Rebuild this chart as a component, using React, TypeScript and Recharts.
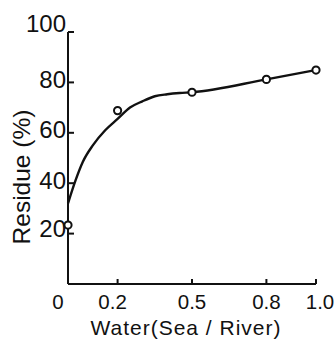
import { ComposedChart, Line, XAxis, YAxis, Label } from 'recharts'

// measured points (open circles)
const pointX = [0, 0.2, 0.5, 0.8, 1.0]
const pointY = [23.4, 68.8, 76.1, 81.2, 84.9]

// hand-drawn fitted curve
const curveX = [0, 0.03, 0.06, 0.1, 0.15, 0.2, 0.25, 0.3, 0.35, 0.4, 0.45, 0.5, 0.8, 1.0]
const curveY = [32, 41, 48.5, 55, 61, 65.5, 70, 72.5, 74.5, 75.3, 75.8, 76.1, 81.2, 84.9]

const xTicks = [0, 0.2, 0.5, 0.8, 1.0]
const xTickLabels = ['0', '0.2', '0.5', '0.8', '1.0']
const yTicks = [20, 40, 60, 80, 100]

const points = pointX.map((x, i) => ({ x, y: pointY[i] }))
const curve = curveX.map((x, i) => ({ x, y: curveY[i] }))

const INK = '#111'
const NARROW = '"Liberation Sans Narrow", "Liberation Sans", Arial, sans-serif'
const SANS = '"Liberation Sans", Arial, sans-serif'

// small nudges so labels sit where the scan has them
const xLabelShift: Record<number, number> = { 0: -10, 0.2: -5, 1: 4 }
const yLabelShift: Record<number, number> = { 100: -9, 20: -5 }

const XTick = (props: any) => {
  const { x, y, payload } = props
  const v = payload.value as number
  const i = xTicks.indexOf(v)
  return (
    <g>
      {v !== 0 && <line x1={x} y1={y} x2={x} y2={y - 5} stroke={INK} strokeWidth={2} />}
      <text
        x={x + (xLabelShift[v] || 0)}
        y={y + 17}
        textAnchor="middle"
        dominantBaseline="central"
        fontFamily={NARROW}
        fontSize={20.5}
        fill={INK}
      >
        {xTickLabels[i]}
      </text>
    </g>
  )
}

const YTick = (props: any) => {
  const { x, y, payload } = props
  const v = payload.value as number
  return (
    <g>
      <line x1={x} y1={y} x2={x + 6} y2={y} stroke={INK} strokeWidth={2} />
      <text
        x={x - 2}
        y={y + (yLabelShift[v] ?? -3)}
        textAnchor="end"
        dominantBaseline="central"
        fontFamily={NARROW}
        fontSize={24}
        fill={INK}
      >
        {v}
      </text>
    </g>
  )
}

const Circle = (props: any) => {
  const { cx, cy } = props
  return <circle cx={cx} cy={cy} r={3.6} fill="#fff" stroke={INK} strokeWidth={2} />
}

export default function App() {
  return (
    <div style={{ position: 'absolute', left: 0, top: 0, background: '#fff' }}>
      <ComposedChart width={334} height={340} margin={{ top: 32, right: 18, left: 0, bottom: 0 }}>
        <XAxis
          type="number"
          dataKey="x"
          domain={[0, 1]}
          ticks={xTicks}
          height={56}
          tickSize={0}
          tickMargin={0}
          tick={<XTick />}
          axisLine={{ stroke: INK, strokeWidth: 2 }}
          allowDuplicatedCategory={false}
        >
          <Label
            content={(p: any) => {
              const vb = p.viewBox
              return (
                <text
                  x={vb.x + vb.width / 2 - 6}
                  y={335}
                  textAnchor="middle"
                  fontFamily={SANS}
                  fontSize={21}
                  letterSpacing={1}
                  fill={INK}
                >
                  Water(Sea / River)
                </text>
              )
            }}
          />
        </XAxis>
        <YAxis
          type="number"
          dataKey="y"
          domain={[0, 100]}
          ticks={yTicks}
          width={68}
          tickSize={0}
          tickMargin={0}
          tick={<YTick />}
          axisLine={{ stroke: INK, strokeWidth: 2 }}
        >
          <Label
            content={(p: any) => {
              const vb = p.viewBox
              const cy = vb.y + vb.height / 2 + 19
              return (
                <text
                  transform={`translate(30, ${cy}) rotate(-90)`}
                  textAnchor="middle"
                  fontFamily={SANS}
                  fontSize={24.5}
                  fill={INK}
                >
                  Residue (%)
                </text>
              )
            }}
          />
        </YAxis>
        <Line
          data={curve}
          dataKey="y"
          type="monotone"
          stroke={INK}
          strokeWidth={2.4}
          dot={false}
          activeDot={false}
          isAnimationActive={false}
        />
        <Line
          data={points}
          dataKey="y"
          stroke="none"
          dot={<Circle />}
          activeDot={false}
          isAnimationActive={false}
        />
      </ComposedChart>
    </div>
  )
}
